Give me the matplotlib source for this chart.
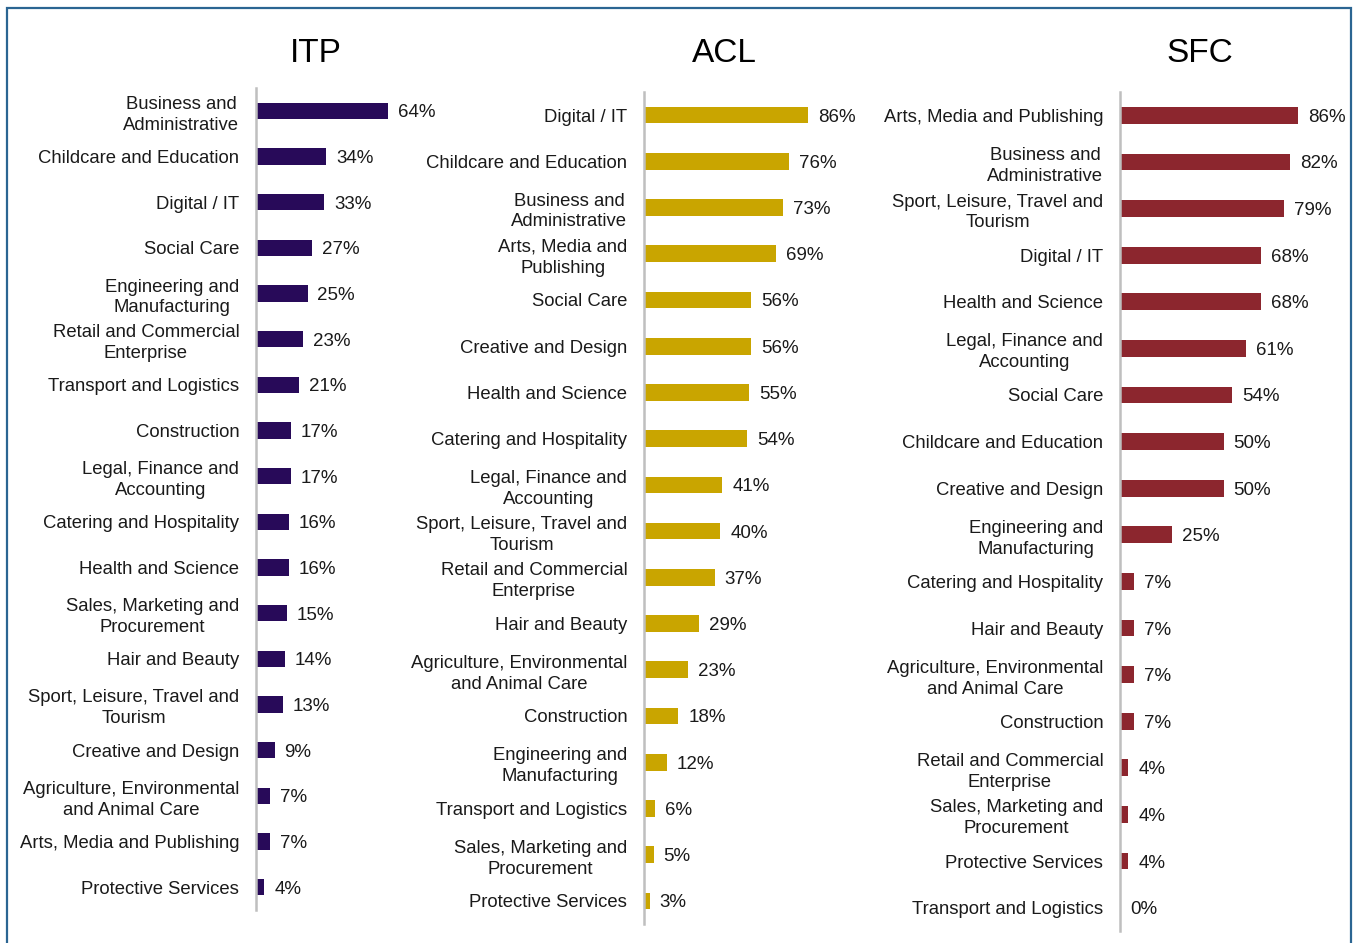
import matplotlib.pyplot as plt
from matplotlib.patches import Rectangle

plt.rcParams['font.family'] = ['Liberation Sans', 'DejaVu Sans']

itp_labels = ["Business and\nAdministrative", "Childcare and Education", "Digital / IT", "Social Care",
              "Engineering and\nManufacturing", "Retail and Commercial\nEnterprise", "Transport and Logistics",
              "Construction", "Legal, Finance and\nAccounting", "Catering and Hospitality", "Health and Science",
              "Sales, Marketing and\nProcurement", "Hair and Beauty", "Sport, Leisure, Travel and\nTourism",
              "Creative and Design", "Agriculture, Environmental\nand Animal Care", "Arts, Media and Publishing",
              "Protective Services"]
itp_values = [64, 34, 33, 27, 25, 23, 21, 17, 17, 16, 16, 15, 14, 13, 9, 7, 7, 4]

acl_labels = ["Digital / IT", "Childcare and Education", "Business and\nAdministrative",
              "Arts, Media and\nPublishing", "Social Care", "Creative and Design", "Health and Science",
              "Catering and Hospitality", "Legal, Finance and\nAccounting", "Sport, Leisure, Travel and\nTourism",
              "Retail and Commercial\nEnterprise", "Hair and Beauty", "Agriculture, Environmental\nand Animal Care",
              "Construction", "Engineering and\nManufacturing", "Transport and Logistics",
              "Sales, Marketing and\nProcurement", "Protective Services"]
acl_values = [86, 76, 73, 69, 56, 56, 55, 54, 41, 40, 37, 29, 23, 18, 12, 6, 5, 3]

sfc_labels = ["Arts, Media and Publishing", "Business and\nAdministrative", "Sport, Leisure, Travel and\nTourism",
              "Digital / IT", "Health and Science", "Legal, Finance and\nAccounting", "Social Care",
              "Childcare and Education", "Creative and Design", "Engineering and\nManufacturing",
              "Catering and Hospitality", "Hair and Beauty", "Agriculture, Environmental\nand Animal Care",
              "Construction", "Retail and Commercial\nEnterprise", "Sales, Marketing and\nProcurement",
              "Protective Services", "Transport and Logistics"]
sfc_values = [86, 82, 79, 68, 68, 61, 54, 50, 50, 25, 7, 7, 7, 7, 4, 4, 4, 0]

W, H = 1355, 943
fig = plt.figure(figsize=(W / 100, H / 100), dpi=100)

# frame round the whole picture
fig.patches.append(Rectangle((7 / W, -0.05), 1344 / W, 1.05 - 8 / H, transform=fig.transFigure,
                             fill=False, edgecolor='#2B6592', linewidth=1.6))

panels = [
    ("ITP", itp_labels, itp_values, '#280A59', (256, 88, 206, 910), 316),
    ("ACL", acl_labels, acl_values, '#C9A500', (644, 92, 191, 924), 724),
    ("SFC", sfc_labels, sfc_values, '#8C262E', (1120, 92, 207, 931), 1200),
]

for title, labels, values, color, (x0, top, w, bottom), tx in panels:
    ax = fig.add_axes([x0 / W, 1 - bottom / H, w / W, (bottom - top) / H])
    n = len(values)
    ypos = list(range(n))
    ax.barh(ypos, values, height=0.36, color=color)
    ax.set_xlim(0, 100)
    ax.set_ylim(n - 0.5, -0.5)
    ax.set_yticks(ypos)
    ax.set_yticklabels(labels, fontsize=13.3, color='#1a1a1a')
    for t in ax.get_yticklabels():
        t.set_multialignment('center')
        t.set_linespacing(1.3)
    ax.tick_params(axis='y', length=0, pad=12)
    ax.set_xticks([])
    for s in ['top', 'right', 'bottom']:
        ax.spines[s].set_visible(False)
    ax.spines['left'].set_color('#BFBFBF')
    ax.spines['left'].set_linewidth(1.8)
    for y, v in zip(ypos, values):
        ax.annotate(f"{v}%", (v, y), xytext=(10, -2), textcoords='offset pixels',
                    va='center', ha='left', fontsize=13.5, color='#1a1a1a')
    fig.text(tx / W, 1 - 53 / H, title, ha='center', va='center', fontsize=24, color='black')

fig.savefig('out.png', dpi=100)
